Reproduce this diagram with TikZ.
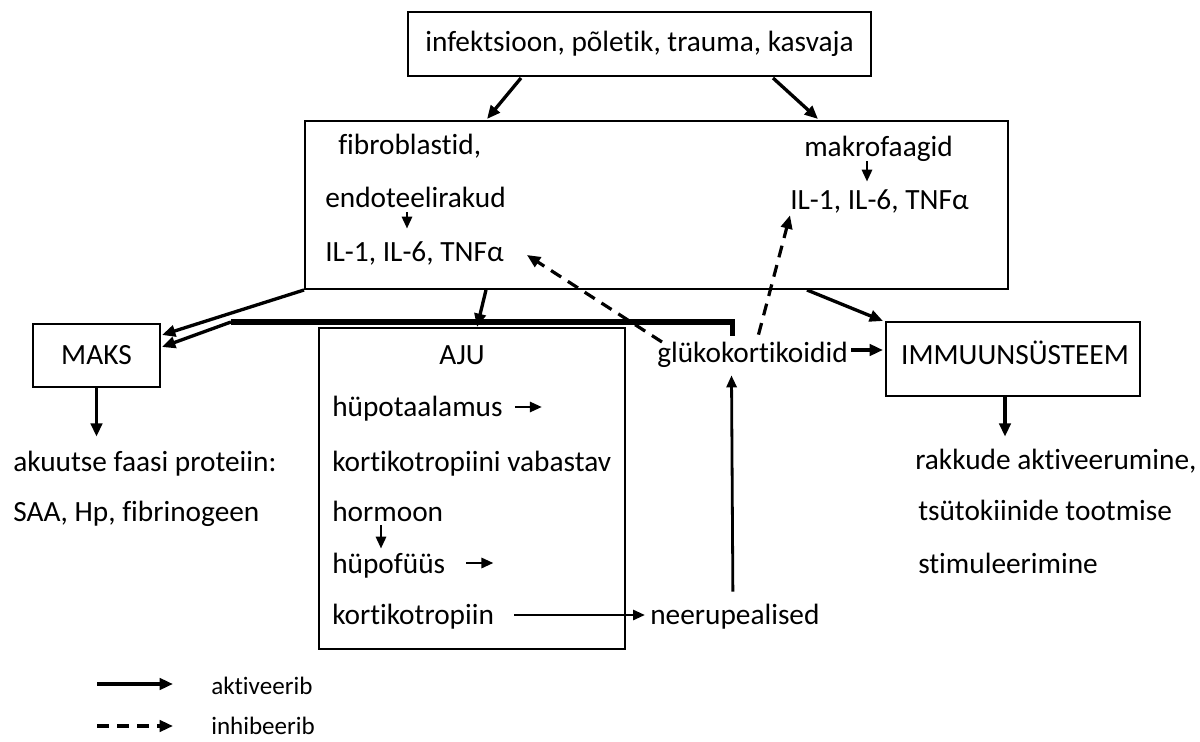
\documentclass[tikz,border=0pt]{standalone}
\usepackage{fontspec}
\setmainfont{Carlito}[Ligatures={NoCommon,NoContextual}]
\usetikzlibrary{arrows.meta,calc}
\begin{document}
\begin{tikzpicture}[x=0.75pt,y=-0.75pt,
  every node/.style={font=\fontsize{22}{26}\selectfont},
  box/.style={draw, line width=1.5pt, inner sep=0pt},
  t/.style={anchor=west, inner sep=0pt, text height=7pt, text depth=2.1pt},
  lg/.style={font=\fontsize{18.8}{22}\selectfont},
  arr/.style={line width=2.5pt, -{Triangle[length=10pt,width=8.5pt]}},
  thinarr/.style={line width=2.1pt, -{Triangle[length=9pt,width=7.5pt]}},
  inh/.style={line width=2.4pt, dash pattern=on 9pt off 6pt, -{Triangle[length=10pt,width=8.5pt]}},
  bar/.style={line width=4pt, line join=miter}
]
\useasboundingbox (0,0) rectangle (1200,742);

% boxes
\node[box, minimum width=347.25pt, minimum height=48pt] (top) at (639.5,44) {infektsioon, põletik, trauma, kasvaja};
\node[box, minimum width=527.25pt, minimum height=126pt] (big) at (656.5,205) {};
\node[box, minimum width=95.25pt, minimum height=47.25pt] (maks) at (96.5,355.5) {MAKS};
\node[box, minimum width=229.5pt, minimum height=240.75pt] (aju) at (472,488.5) {};
\node[box, minimum width=190.5pt, minimum height=55.5pt] (imm) at (1013,359) {};

% texts
\node[t, anchor=center] (immt) at (1015,361) {IMMUUNSÜSTEEM};
\node[t] (fib) at (338,151) {fibroblastid,};
\node[t] (endo) at (325,204) {endoteelirakud};
\node[t] (ila) at (325,258) {IL-1, IL-6, TNFα};
\node[t] (makro) at (804,153) {makrofaagid};
\node[t] (ilb) at (790,206) {IL-1, IL-6, TNFα};
\node[t, anchor=center] (ajut) at (462,361) {AJU};
\node[t] (hypo) at (332,413) {hüpotaalamus};
\node[t] (krh) at (332,468) {kortikotropiini vabastav};
\node[t] (horm) at (332,518) {hormoon};
\node[t] (hypof) at (332,570) {hüpofüüs};
\node[t] (acth) at (332,621) {kortikotropiin};
\node[t] (neer) at (650,621) {neerupealised};
\node[t] (gluko) at (657,359) {glükokortikoidid};
\node[t] (akuut) at (13,468) {akuutse faasi proteiin:};
\node[t] (saa) at (13,518) {SAA, Hp, fibrinogeen};
\node[t] (rak) at (915,466) {rakkude aktiveerumine,};
\node[t] (tsut) at (918,517) {tsütokiinide tootmise};
\node[t] (stim) at (918,570) {stimuleerimine};
\node[t, lg] (aktiv) at (211,691) {aktiveerib};
\node[t, lg] (inhib) at (211,731) {inhibeerib};

% connectors
\draw[arr] ([shift={(-118.5,1)}]top.south) -- ([shift={(-169.5,-1)}]big.north);
\draw[arr] ([shift={(133.5,1)}]top.south) -- ([shift={(161.5,-1)}]big.north);
\draw[thinarr] ([shift={(82,2)}]endo.south west) -- ([shift={(82,-23)}]ila.north west);
\draw[thinarr] ([shift={(63,2)}]makro.south west) -- ([shift={(77,-18)}]ilb.north west);
\draw[arr] (big.south west) -- ([shift={(1,-20.5)}]maks.east);
\draw[arr] ([shift={(-170.5,0)}]big.south) -- ([shift={(5,0)}]aju.north);
\draw[arr] ([shift={(150.5,0)}]big.south) -- ([shift={(-2,0)}]imm.north west);
\coordinate (J) at (231,322);
\draw[bar] ([shift={(-20,-17)}]gluko.north) |- (J);
\draw[arr] (J) -- ([shift={(1,-8.5)}]maks.east);
\draw[arr] (maks.south) -- ([shift={(83.5,-25)}]akuut.north west);
\draw[arr] ([shift={(-8,0)}]imm.south) -- ([shift={(90,-23)}]rak.north west);
\draw[thinarr] ([shift={(12,-6)}]hypo.east) -- ++(27,0);
\draw[thinarr] ([shift={(49,1)}]horm.south west) -- ([shift={(49,-15)}]hypof.north west);
\draw[thinarr] ([shift={(21,-7)}]hypof.east) -- ++(27,0);
\draw[thinarr] ([shift={(20,-6)}]acth.east) -- ([shift={(-5,-6)}]neer.west);
\draw[thinarr] ([shift={(-2,-23)}]neer.north) -- ([shift={(-21,10)}]gluko.south);
\draw[arr] ([shift={(3,-9)}]gluko.east) -- ([shift={(-2,-9)}]imm.west);
\draw[inh] ([shift={(5,-17)}]gluko.west) -- ([shift={(23,-3)}]ila.east);
\draw[inh] ([shift={(6,-18)}]gluko.north) -- ([shift={(0,3)}]ilb.south west);

% legend
\coordinate (la) at (97,684);
\coordinate (lb) at (97,726);
\draw[arr] (la) -- ([shift={(-38,-7)}]aktiv.west);
\draw[inh] (lb) -- ([shift={(-38,-5)}]inhib.west);
\end{tikzpicture}
\end{document}
